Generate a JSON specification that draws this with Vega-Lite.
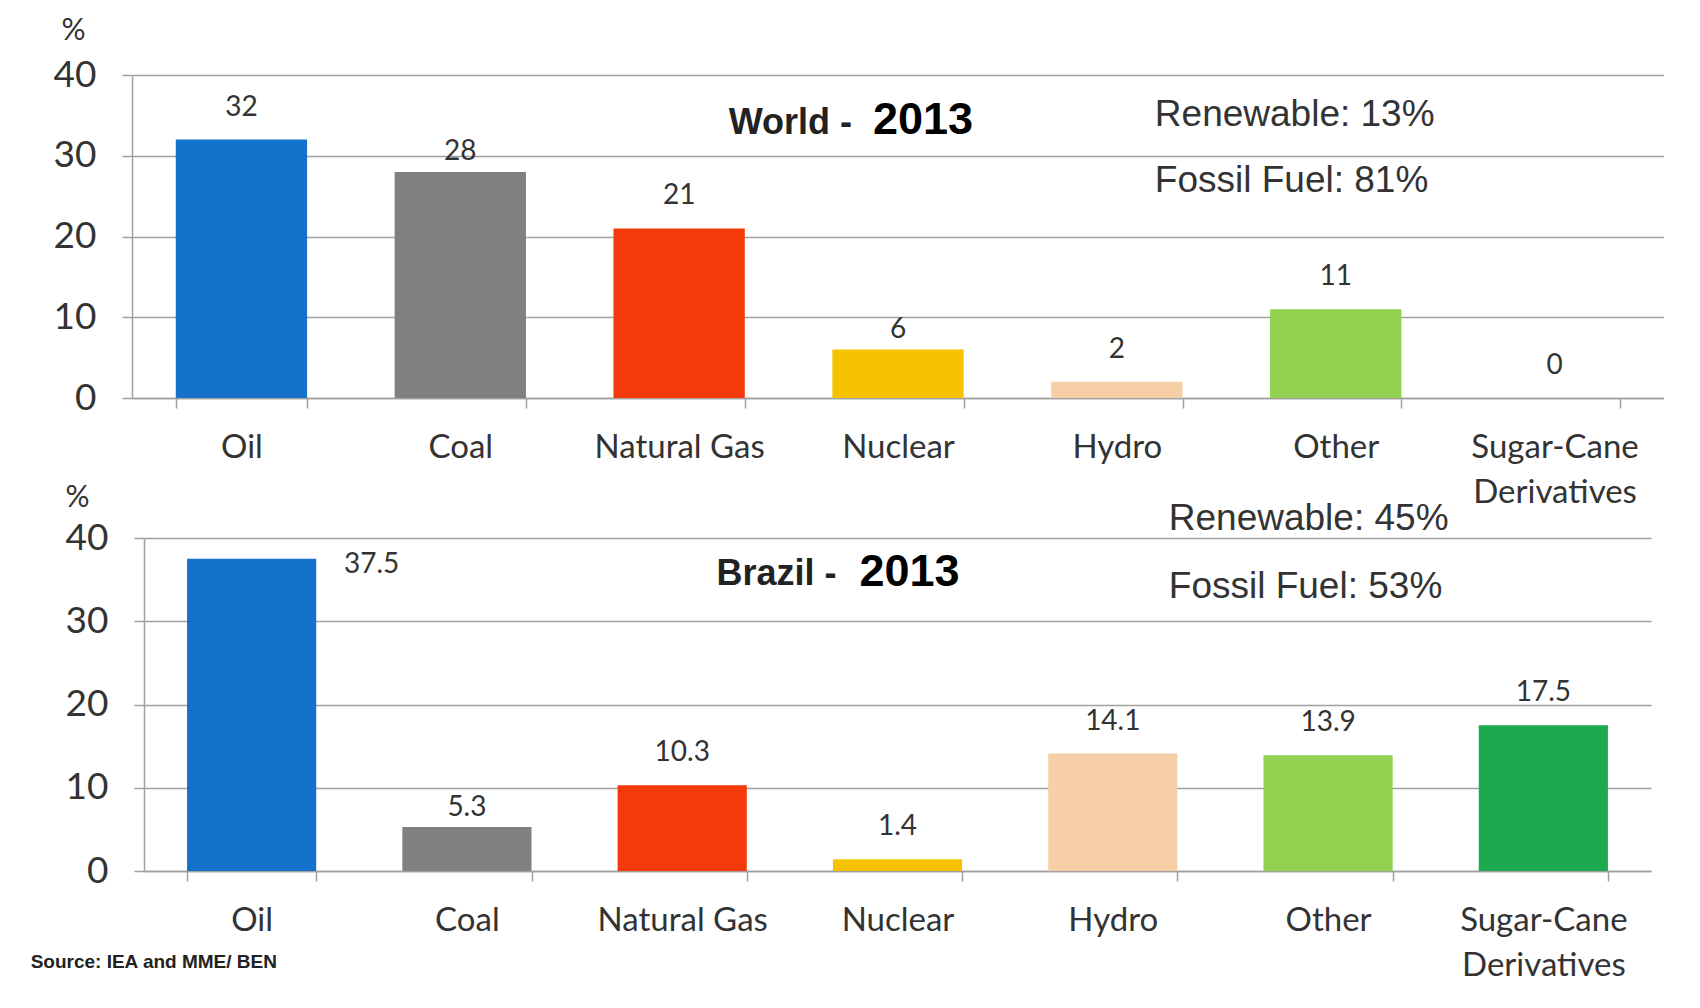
{
  "$schema": "https://vega.github.io/schema/vega-lite/v6.json",
  "background": "white",
  "padding": {"left": 30, "top": 15, "right": 0, "bottom": 0},
  "datasets": {
    "world": [
      {"source": "Oil", "value": 32},
      {"source": "Coal", "value": 28},
      {"source": "Natural Gas", "value": 21},
      {"source": "Nuclear", "value": 6},
      {"source": "Hydro", "value": 2},
      {"source": "Other", "value": 11},
      {"source": "Sugar-Cane Derivatives", "value": 0}
    ],
    "brazil": [
      {"source": "Oil", "value": 37.5},
      {"source": "Coal", "value": 5.3},
      {"source": "Natural Gas", "value": 10.3},
      {"source": "Nuclear", "value": 1.4},
      {"source": "Hydro", "value": 14.1},
      {"source": "Other", "value": 13.9},
      {"source": "Sugar-Cane Derivatives", "value": 17.5}
    ]
  },
  "bounds": "flush",
  "spacing": 140,
  "vconcat": [
    {
      "width": 1532,
      "height": 323,
      "data": {"name": "world"},
      "layer": [
        {
          "mark": {"type": "bar"},
          "encoding": {
            "x": {"field": "source", "type": "nominal", "sort": null, "title": null,
                  "scale": {"paddingInner": 0.4, "paddingOuter": 0.2}},
            "y": {"field": "value", "type": "quantitative", "title": "%",
                  "scale": {"domain": [0, 40], "nice": false},
                  "axis": {"values": [0, 10, 20, 30, 40], "titleX": -59, "titleY": -45}},
            "color": {"field": "source", "type": "nominal", "legend": null,
                      "scale": {"domain": ["Oil", "Coal", "Natural Gas", "Nuclear", "Hydro", "Other", "Sugar-Cane Derivatives"],
                                "range": ["#1572CC", "#808080", "#F43A0A", "#F6C200", "#F6CFA6", "#92D050", "#1DAA4E"]}}
          }
        },
        {
          "transform": [{"filter": "datum.source != 'Coal' && datum.source != 'Nuclear'"}],
          "mark": {"type": "text", "baseline": "middle", "dy": -32, "font": "Lato", "fontSize": 28, "color": "#333333"},
          "encoding": {
            "x": {"field": "source", "type": "nominal", "sort": null},
            "y": {"field": "value", "type": "quantitative"},
            "text": {"field": "value", "type": "quantitative"}
          }
        },
        {
          "transform": [{"filter": "datum.source == 'Coal' || datum.source == 'Nuclear'"}],
          "mark": {"type": "text", "baseline": "middle", "dy": -20, "font": "Lato", "fontSize": 28, "color": "#333333"},
          "encoding": {
            "x": {"field": "source", "type": "nominal", "sort": null},
            "y": {"field": "value", "type": "quantitative"},
            "text": {"field": "value", "type": "quantitative"}
          }
        },
        {
          "data": {"values": [{}]},
          "mark": {"type": "text", "text": "World -", "align": "right", "baseline": "alphabetic", "dx": -46, "font": "Liberation Sans", "fontWeight": "bold", "fontSize": 36, "color": "#222222"},
          "encoding": {"x": {"datum": "Nuclear"}, "y": {"datum": 32.7}}
        },
        {
          "data": {"values": [{}]},
          "mark": {"type": "text", "text": "2013", "align": "left", "baseline": "alphabetic", "dx": -25, "font": "Liberation Sans", "fontWeight": "bold", "fontSize": 45, "color": "#000000"},
          "encoding": {"x": {"datum": "Nuclear"}, "y": {"datum": 32.7}}
        },
        {
          "data": {"values": [{}]},
          "mark": {"type": "text", "text": "Renewable: 13%", "align": "left", "baseline": "alphabetic", "dx": 38, "font": "Liberation Sans", "fontSize": 37, "color": "#333333"},
          "encoding": {"x": {"datum": "Hydro"}, "y": {"datum": 33.7}}
        },
        {
          "data": {"values": [{}]},
          "mark": {"type": "text", "text": "Fossil Fuel: 81%", "align": "left", "baseline": "alphabetic", "dx": 38, "font": "Liberation Sans", "fontSize": 37, "color": "#333333"},
          "encoding": {"x": {"datum": "Hydro"}, "y": {"datum": 25.5}}
        }
      ]
    },
    {
      "bounds": "flush",
      "spacing": 11,
      "hconcat": [
        {
          "width": 1,
          "height": 333,
          "data": {"values": []},
          "mark": {"type": "point"},
          "encoding": {}
        },
        {
          "width": 1507,
          "height": 333,
          "data": {"name": "brazil"},
          "layer": [
            {
              "mark": {"type": "bar"},
              "encoding": {
                "x": {"field": "source", "type": "nominal", "sort": null, "title": null,
                      "scale": {"paddingInner": 0.4, "paddingOuter": 0.2}},
                "y": {"field": "value", "type": "quantitative", "title": "%",
                      "scale": {"domain": [0, 40], "nice": false},
                      "axis": {"values": [0, 10, 20, 30, 40], "titleX": -67, "titleY": -41}},
                "color": {"field": "source", "type": "nominal", "legend": null,
                          "scale": {"domain": ["Oil", "Coal", "Natural Gas", "Nuclear", "Hydro", "Other", "Sugar-Cane Derivatives"],
                                    "range": ["#1572CC", "#808080", "#F43A0A", "#F6C200", "#F9C897", "#92D050", "#1DAA4E"]}}
              }
            },
            {
              "transform": [{"filter": "datum.value <= 35 && datum.source != 'Coal'"}],
              "mark": {"type": "text", "baseline": "middle", "dy": -32, "font": "Lato", "fontSize": 28, "color": "#333333"},
              "encoding": {
                "x": {"field": "source", "type": "nominal", "sort": null},
                "y": {"field": "value", "type": "quantitative"},
                "text": {"field": "value", "type": "quantitative", "format": ".1f"}
              }
            },
            {
              "transform": [{"filter": "datum.source == 'Coal'"}],
              "mark": {"type": "text", "baseline": "middle", "dy": -19, "font": "Lato", "fontSize": 28, "color": "#333333"},
              "encoding": {
                "x": {"field": "source", "type": "nominal", "sort": null},
                "y": {"field": "value", "type": "quantitative"},
                "text": {"field": "value", "type": "quantitative", "format": ".1f"}
              }
            },
            {
              "transform": [{"filter": "datum.value > 35"}],
              "mark": {"type": "text", "baseline": "middle", "dx": 120, "dy": 6, "font": "Lato", "fontSize": 28, "color": "#333333"},
              "encoding": {
                "x": {"field": "source", "type": "nominal", "sort": null},
                "y": {"field": "value", "type": "quantitative"},
                "text": {"field": "value", "type": "quantitative", "format": ".1f"}
              }
            },
            {
              "data": {"values": [{}]},
              "mark": {"type": "text", "text": "Brazil -", "align": "right", "baseline": "alphabetic", "dx": -61, "font": "Liberation Sans", "fontWeight": "bold", "fontSize": 36, "color": "#222222"},
              "encoding": {"x": {"datum": "Nuclear"}, "y": {"datum": 34.4}}
            },
            {
              "data": {"values": [{}]},
              "mark": {"type": "text", "text": "2013", "align": "left", "baseline": "alphabetic", "dx": -38, "font": "Liberation Sans", "fontWeight": "bold", "fontSize": 45, "color": "#000000"},
              "encoding": {"x": {"datum": "Nuclear"}, "y": {"datum": 34.2}}
            },
            {
              "data": {"values": [{}]},
              "mark": {"type": "text", "text": "Renewable:  45%", "align": "left", "baseline": "alphabetic", "dx": 56, "font": "Liberation Sans", "fontSize": 37, "color": "#333333"},
              "encoding": {"x": {"datum": "Hydro"}, "y": {"datum": 41}}
            },
            {
              "data": {"values": [{}]},
              "mark": {"type": "text", "text": "Fossil Fuel: 53%", "align": "left", "baseline": "alphabetic", "dx": 56, "font": "Liberation Sans", "fontSize": 37, "color": "#333333"},
              "encoding": {"x": {"datum": "Hydro"}, "y": {"datum": 32.8}}
            },
            {
              "data": {"values": [{}]},
              "mark": {"type": "text", "text": "Source: IEA and MME/ BEN", "align": "left", "baseline": "alphabetic", "dx": -221, "font": "Liberation Sans", "fontWeight": "bold", "fontSize": 19, "color": "#222222"},
              "encoding": {"x": {"datum": "Oil"}, "y": {"datum": -11.6}}
            }
          ]
        }
      ]
    }
  ],
  "config": {
    "view": {"stroke": null},
    "axisY": {
      "grid": true, "gridColor": "#a0a0a0", "gridWidth": 1.5,
      "domainColor": "#a0a0a0", "domainWidth": 1.5,
      "tickColor": "#a0a0a0", "tickWidth": 1.5, "tickSize": 10,
      "labelFont": "Lato", "labelFontSize": 37, "labelColor": "#333333", "labelPadding": 26,
      "titleAngle": 0, "titleAlign": "center", "titleBaseline": "middle",
      "titleFont": "Lato", "titleFontSize": 30, "titleFontWeight": "normal", "titleColor": "#333333"
    },
    "axisX": {
      "labelAngle": 0, "tickBand": "extent", "grid": false,
      "domainColor": "#a0a0a0", "domainWidth": 1.5,
      "tickColor": "#a0a0a0", "tickWidth": 1.5, "tickSize": 10,
      "labelFont": "Lato", "labelFontSize": 33, "labelColor": "#333333", "labelPadding": 23,
      "labelLimit": 400, "labelLineHeight": 45, "labelBaseline": "top",
      "labelExpr": "datum.value == 'Sugar-Cane Derivatives' ? ['Sugar-Cane', 'Derivatives'] : datum.value"
    }
  }
}
